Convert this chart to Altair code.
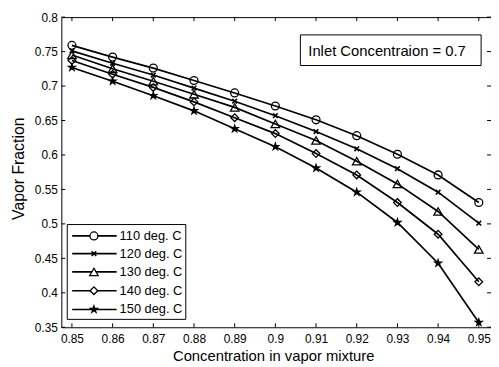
import altair as alt
import pandas as pd

x_vals = [0.85, 0.86, 0.87, 0.88, 0.89, 0.90, 0.91, 0.92, 0.93, 0.94, 0.95]
series_names = ["110 deg. C", "120 deg. C", "130 deg. C", "140 deg. C", "150 deg. C"]
v110 = [0.759, 0.742, 0.726, 0.708, 0.690, 0.671, 0.651, 0.628, 0.601, 0.571, 0.531]
v120 = [0.751, 0.733, 0.716, 0.697, 0.678, 0.657, 0.634, 0.609, 0.580, 0.546, 0.501]
v130 = [0.745, 0.725, 0.707, 0.688, 0.669, 0.645, 0.621, 0.591, 0.558, 0.518, 0.463]
v140 = [0.737, 0.717, 0.698, 0.677, 0.654, 0.631, 0.602, 0.571, 0.531, 0.485, 0.416]
v150 = [0.727, 0.707, 0.686, 0.664, 0.638, 0.612, 0.581, 0.546, 0.502, 0.443, 0.357]
all_values = [v110, v120, v130, v140, v150]

x_ticks = [0.85, 0.86, 0.87, 0.88, 0.89, 0.90, 0.91, 0.92, 0.93, 0.94, 0.95]
y_ticks = [0.35, 0.40, 0.45, 0.50, 0.55, 0.60, 0.65, 0.70, 0.75, 0.80]
annotation = ["Inlet Concentraion = 0.7"]
x_title = "Concentration in vapor mixture"
y_title = "Vapor Fraction"

W, H = 435, 314
FONT = "Liberation Sans"

STAR = ("M0,-1L0.223,-0.307L0.951,-0.309L0.361,0.117L0.588,0.809L0,0.38"
        "L-0.588,0.809L-0.361,0.117L-0.951,-0.309L-0.223,-0.307Z")
XMARK = "M-1,-1L1,1M-1,1L1,-1"
marker_specs = [
    dict(shape="circle", size=64, filled=False, strokeWidth=1.3),
    dict(shape=XMARK, size=22, filled=False, strokeWidth=1.6),
    dict(shape="triangle-up", size=75, filled=False, strokeWidth=1.3),
    dict(shape="diamond", size=60, filled=False, strokeWidth=1.3),
    dict(shape=STAR, size=130, filled=True, strokeWidth=0.8),
]

rows = []
for name, vals in zip(series_names, all_values):
    for xv, yv in zip(x_vals, vals):
        rows.append({"x": xv, "y": yv, "series": name})
df = pd.DataFrame(rows)

xscale = alt.Scale(domain=[0.8474, 0.953], nice=False, zero=False)
yscale = alt.Scale(domain=[0.35, 0.8], nice=False, zero=False)

xaxis = alt.Axis(values=x_ticks, format=".2~f", ticks=False, domain=False, grid=False,
                 labelFont=FONT, labelFontSize=12, labelColor="black", labelPadding=6,
                 title=x_title, titleFont=FONT, titleFontSize=15, titleFontWeight="normal",
                 titleColor="black", titleX=W / 2 - 3, titleY=29, titleBaseline="middle",
                 labelFlush=False, labelOverlap=False, labelBound=False)
yaxis = alt.Axis(values=y_ticks, format=".2~f", ticks=False, domain=False, grid=False,
                 labelFont=FONT, labelFontSize=12, labelColor="black", labelPadding=4,
                 title=y_title, titleFont=FONT, titleFontSize=16, titleFontWeight="normal",
                 titleColor="black", titleX=-43.5, titleY=153, titleBaseline="middle",
                 titleAngle=-90, labelFlush=False, labelOverlap=False, labelBound=False)


def X(field):
    return alt.X(field, scale=xscale, axis=xaxis)


def Y(field):
    return alt.Y(field, scale=yscale, axis=yaxis)


base = alt.Chart(df)
lines = base.mark_line(color="black", strokeWidth=1.7).encode(
    x=X("x:Q"), y=Y("y:Q"), detail="series:N",
)

layers = [lines]
for name, spec in zip(series_names, marker_specs):
    layers.append(
        alt.Chart(df[df["series"] == name]).mark_point(
            shape=spec["shape"], size=spec["size"], filled=spec["filled"],
            color="black", strokeWidth=spec["strokeWidth"], opacity=1,
        ).encode(x=X("x:Q"), y=Y("y:Q"))
    )

# inward tick marks on all four sides
xt = pd.DataFrame({"x": x_ticks})
yt = pd.DataFrame({"y": y_ticks})
TL = 4
layers.append(alt.Chart(xt).mark_rule(color="black", strokeWidth=1).encode(
    x=X("x:Q"), y=alt.value(H), y2=alt.value(H - TL)))
layers.append(alt.Chart(xt).mark_rule(color="black", strokeWidth=1).encode(
    x=X("x:Q"), y=alt.value(0), y2=alt.value(TL)))
layers.append(alt.Chart(yt).mark_rule(color="black", strokeWidth=1).encode(
    y=Y("y:Q"), x=alt.value(0), x2=alt.value(TL)))
layers.append(alt.Chart(yt).mark_rule(color="black", strokeWidth=1).encode(
    y=Y("y:Q"), x=alt.value(W), x2=alt.value(W - TL)))

# annotation box
ann = pd.DataFrame({"label": annotation})
layers.append(alt.Chart(ann).mark_rect(fill="white", stroke="black", strokeWidth=1).encode(
    x=alt.value(242), x2=alt.value(425), y=alt.value(18), y2=alt.value(49)))
layers.append(alt.Chart(ann).mark_text(align="left", baseline="middle", font=FONT,
                                       fontSize=15, color="black").encode(
    text="label:N", x=alt.value(250), y=alt.value(34)))

# legend
layers.append(alt.Chart(ann).mark_rect(fill="white", stroke="black", strokeWidth=1).encode(
    x=alt.value(6), x2=alt.value(126), y=alt.value(210), y2=alt.value(306)))
leg_y = [221.5, 239.5, 258, 277, 296]
for name, spec, ly in zip(series_names, marker_specs, leg_y):
    ld = pd.DataFrame({"label": [name]})
    layers.append(alt.Chart(ld).mark_rule(color="black", strokeWidth=1.7).encode(
        x=alt.value(11), x2=alt.value(56), y=alt.value(ly)))
    layers.append(alt.Chart(ld).mark_point(
        shape=spec["shape"], size=spec["size"], filled=spec["filled"],
        color="black", strokeWidth=spec["strokeWidth"], opacity=1,
        fill="white" if not spec["filled"] else "black",
    ).encode(x=alt.value(33), y=alt.value(ly)))
    layers.append(alt.Chart(ld).mark_text(align="left", baseline="middle", font=FONT,
                                          fontSize=13, color="black").encode(
        text="label:N", x=alt.value(59), y=alt.value(ly)))

chart = alt.layer(*layers).properties(
    width=W, height=H,
    autosize=alt.AutoSizeParams(type="none"),
    padding={"left": 54, "top": 7, "right": 0, "bottom": 38},
).configure_view(stroke="black", strokeWidth=1).configure_axis(labelOverlap=False)

chart.save("out.html", embed_options={"renderer": "svg", "actions": False})
